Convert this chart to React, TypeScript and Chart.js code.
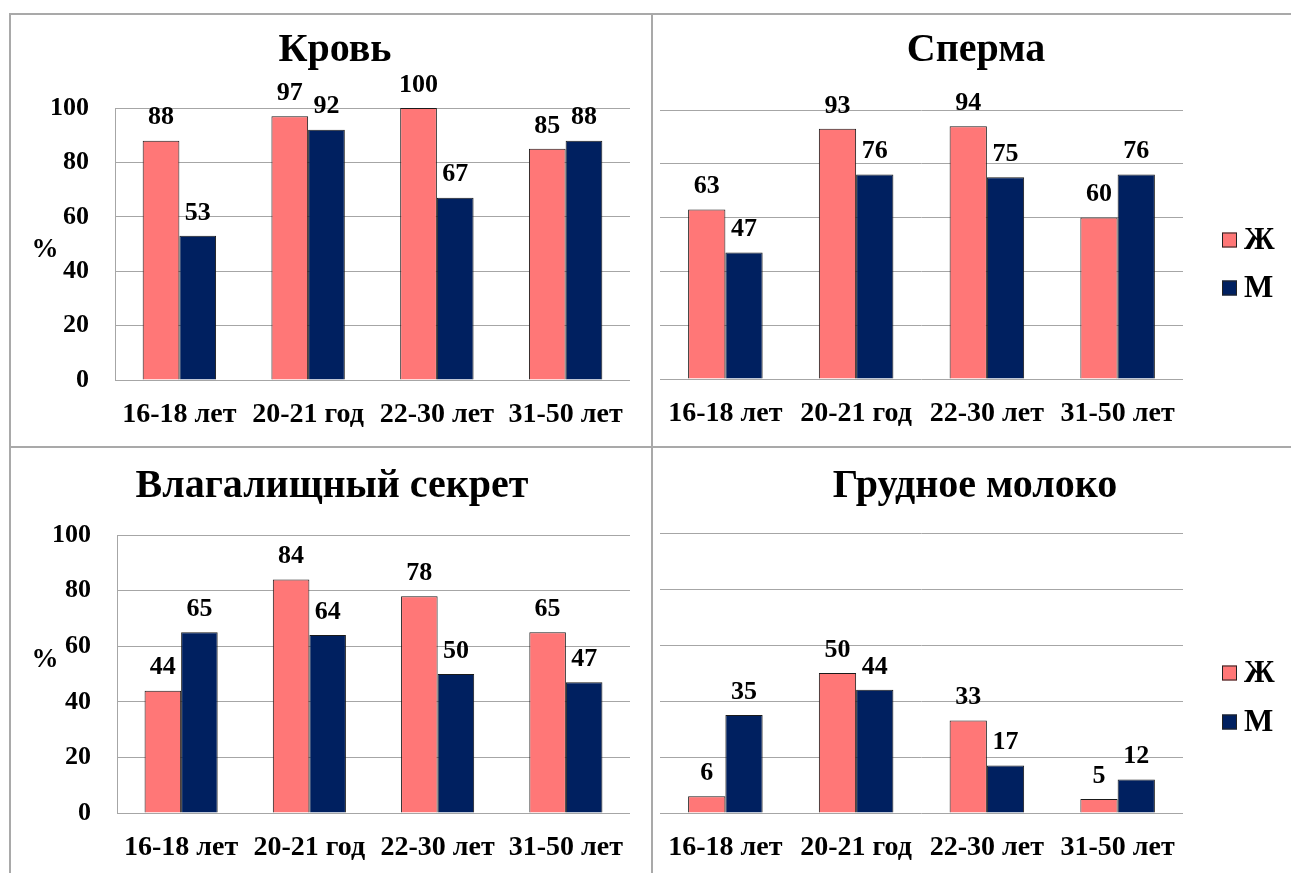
import React, { useEffect, useRef } from "react";
import { Chart, registerables } from "chart.js";

Chart.register(...registerables);

// ---- data ----
const categories = ["16-18 лет", "20-21 год", "22-30 лет", "31-50 лет"];
const seriesNames = ["Ж", "М"];
const yTicks = [0, 20, 40, 60, 80, 100];

const bloodF = [88, 97, 100, 85];
const bloodM = [53, 92, 67, 88];
const spermF = [63, 93, 94, 60];
const spermM = [47, 76, 75, 76];
const vaginalF = [44, 84, 78, 65];
const vaginalM = [65, 64, 50, 47];
const milkF = [6, 50, 33, 5];
const milkM = [35, 44, 17, 12];

const titles = ["Кровь", "Сперма", "Влагалищный секрет", "Грудное молоко"];
const yUnit = "%";

// ---- styles ----
const FONT = '"Liberation Serif", "Times New Roman", serif';
const COLOR_F = "#FF7777";
const COLOR_M = "#002060";
const GRID = "#a6a6a6";
const FRAME = "#a9a9a9";

type Area = { left: number; top: number; right: number; bottom: number };
type PanelCfg = {
  title: string;
  f: number[];
  m: number[];
  left: number;
  top: number;
  width: number;
  height: number;
  area: Area;
  titleX: number;
  titleBaseline: number;
  showY: boolean;
  legend: boolean;
  percentY?: number;
  legendY?: number[];
};

const panels: PanelCfg[] = [
  {
    title: titles[0], f: bloodF, m: bloodM,
    left: 11, top: 15, width: 640, height: 431,
    area: { left: 104, top: 93, right: 619, bottom: 365 },
    titleX: 324, titleBaseline: 46, showY: true, legend: false, percentY: 235,
  },
  {
    title: titles[1], f: spermF, m: spermM,
    left: 653, top: 15, width: 638, height: 431,
    area: { left: 7, top: 95, right: 530, bottom: 364 },
    titleX: 323, titleBaseline: 46, showY: false, legend: true, legendY: [225, 273],
  },
  {
    title: titles[2], f: vaginalF, m: vaginalM,
    left: 11, top: 448, width: 640, height: 425,
    area: { left: 106, top: 87, right: 619, bottom: 365 },
    titleX: 321, titleBaseline: 49, showY: true, legend: false, percentY: 212,
  },
  {
    title: titles[3], f: milkF, m: milkM,
    left: 653, top: 448, width: 638, height: 425,
    area: { left: 7, top: 85, right: 530, bottom: 365 },
    titleX: 322, titleBaseline: 49, showY: false, legend: true, legendY: [225, 274],
  },
];

const TITLE_SIZE = 40;

function Panel({ cfg }: { cfg: PanelCfg }) {
  const ref = useRef<HTMLCanvasElement>(null);

  useEffect(() => {
    if (!ref.current) return;

    const extras = {
      id: "extras",
      afterDatasetsDraw(chart: any) {
        const ctx = chart.ctx as CanvasRenderingContext2D;
        ctx.save();
        ctx.fillStyle = "#000";
        ctx.textAlign = "center";
        ctx.textBaseline = "alphabetic";
        ctx.font = `bold ${TITLE_SIZE}px ${FONT}`;
        ctx.fillText(cfg.title, cfg.titleX, cfg.titleBaseline);

        ctx.textBaseline = "middle";
        ctx.font = `bold 26px ${FONT}`;
        chart.data.datasets.forEach((ds: any, i: number) => {
          const meta = chart.getDatasetMeta(i);
          meta.data.forEach((el: any, j: number) => {
            ctx.fillText(String(ds.data[j]), el.x, el.y - 23);
          });
        });
        if (cfg.percentY !== undefined) {
          ctx.font = `bold 27px ${FONT}`;
          ctx.fillText(yUnit, 34, cfg.percentY);
        }
        if (cfg.legend && cfg.legendY) {
          const colors = [COLOR_F, COLOR_M];
          seriesNames.forEach((name, i) => {
            const cy = cfg.legendY![i];
            ctx.fillStyle = colors[i];
            ctx.fillRect(569, cy - 7.5, 15, 15);
            ctx.strokeStyle = "#222";
            ctx.lineWidth = 1;
            ctx.strokeRect(569.5, cy - 7, 14, 14);
            ctx.fillStyle = "#000";
            ctx.textAlign = "left";
            ctx.font = `bold 31px ${FONT}`;
            ctx.fillText(name, 591, cy + 1);
          });
        }
        ctx.restore();
      },
    };

    const chart = new Chart(ref.current, {
      type: "bar",
      data: {
        labels: categories,
        datasets: [
          {
            label: seriesNames[0],
            data: cfg.f,
            backgroundColor: COLOR_F,
            borderColor: "#1a1a1a",
            borderWidth: 1,
            categoryPercentage: 0.57,
            barPercentage: 1,
          },
          {
            label: seriesNames[1],
            data: cfg.m,
            backgroundColor: COLOR_M,
            borderColor: "#1a1a1a",
            borderWidth: 1,
            categoryPercentage: 0.57,
            barPercentage: 1,
          },
        ],
      },
      options: {
        animation: false,
        responsive: false,
        devicePixelRatio: 1,
        layout: {
          padding: {
            left: 0,
            top: cfg.area.top,
            bottom: 0,
            right: cfg.width - cfg.area.right,
          },
        },
        plugins: {
          legend: { display: false },
          tooltip: { enabled: false },
          title: { display: false },
        },
        scales: {
          x: {
            grid: { display: false, drawTicks: false },
            border: { display: false },
            ticks: {
              color: "#000",
              font: { family: FONT, size: 28, weight: "bold", lineHeight: 2.5 },
              padding: 0,
              maxRotation: 0,
              autoSkip: false,
            },
            afterFit: (scale: any) => {
              scale.height = cfg.height - cfg.area.bottom;
            },
          },
          y: {
            min: 0,
            max: 100,
            grid: { color: GRID, lineWidth: 1, drawTicks: false },
            border: { display: cfg.showY, color: GRID, width: 1 },
            afterBuildTicks: (scale: any) => {
              scale.ticks = yTicks.map((v) => ({ value: v }));
            },
            ticks: {
              display: cfg.showY,
              color: "#000",
              font: { family: FONT, size: 26, weight: "bold" },
              padding: 26,
            },
            afterFit: (scale: any) => {
              scale.width = cfg.area.left;
            },
          },
        },
      },
      plugins: [extras],
    } as any);

    return () => chart.destroy();
  }, [cfg]);

  return (
    <canvas
      ref={ref}
      width={cfg.width}
      height={cfg.height}
      style={{
        position: "absolute",
        left: cfg.left,
        top: cfg.top,
        width: cfg.width,
        height: cfg.height,
        display: "block",
      }}
    />
  );
}

export default function App() {
  const line = (l: number, t: number, w: number, h: number) => (
    <div style={{ position: "absolute", left: l, top: t, width: w, height: h, background: FRAME }} />
  );
  return (
    <div
      style={{
        position: "absolute",
        left: 0,
        top: 0,
        width: 1291,
        height: 873,
        overflow: "hidden",
        background: "#fff",
      }}
    >
      {panels.map((p, i) => (
        <Panel key={i} cfg={p} />
      ))}
      {line(9, 13, 1282, 2)}
      {line(9, 13, 2, 860)}
      {line(651, 13, 2, 860)}
      {line(9, 446, 1282, 2)}
    </div>
  );
}
